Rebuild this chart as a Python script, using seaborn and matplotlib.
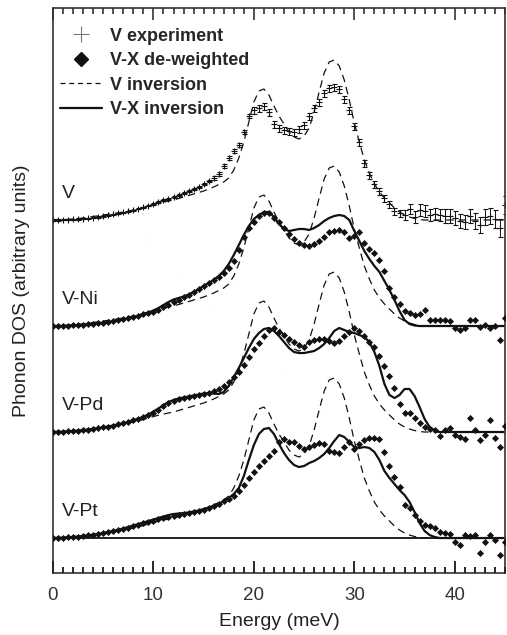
import numpy as np
import pandas as pd
import matplotlib
matplotlib.use("Agg")
import matplotlib.pyplot as plt
from matplotlib.lines import Line2D
from matplotlib.ticker import MultipleLocator
import seaborn as sns

# energy grid of the measurement (meV)
energy = np.arange(0, 45.5, 0.5)

# V inversion (same curve drawn in every panel), arbitrary units
v_inversion = [
    0, 0.1, 0.3, 0.6, 1.0, 1.4, 2.0, 2.6, 3.5, 4.2,
    5.0, 5.7, 6.5, 7.2, 8.0, 9.0, 10.0, 11.2, 12.5, 14.0,
    15.5, 16.8, 18.0, 19.0, 20.0, 21.5, 23.0, 24.5, 26.0, 27.5,
    29.0, 31.0, 33.0, 35.5, 38.0, 42.0, 50.0, 62.0, 78.0, 98.0,
    118, 129, 131, 125, 114, 104, 96, 88, 83, 81,
    84, 92, 108, 128, 147, 158, 160, 154, 140, 120,
    97, 78, 60, 47, 36, 28, 22, 17, 12, 8,
    5, 3, 1.5, 0.5, 0, 0, 0, 0, 0, 0,
    0, 0, 0, 0, 0, 0, 0, 0, 0, 0,
    0,
]

# V experiment
v_exp = [
    0, 0, 0.2, 0.4, 0.7, 1.0, 1.4, 1.9, 2.5, 3.1,
    4.0, 4.8, 5.7, 6.6, 7.6, 8.7, 9.9, 11.2, 12.6, 14.2,
    16.0, 17.8, 19.6, 21.4, 23.2, 25.0, 27.0, 29.0, 31.0, 33.5,
    36, 39, 42, 46, 54, 62, 69, 75, 88, 104,
    110, 112, 114, 108, 96, 92, 90, 89, 88, 91,
    95, 104, 112, 118, 127, 132, 133, 131, 121, 110,
    94, 78, 57, 45, 36, 29, 22, 16, 9, 7,
    5, 11, 3, 10, 9, 5, 6, 5, 4, 4,
    2, -1, -2, 4, -1, -5, 3, 4, 1, -8,
    15,
]
v_exp_err = (
    [0.6] * 20 + [1.0] * 12 + [2.0] * 8 + [3.5] * 30
    + [5, 5, 6, 6, 6, 6, 6, 6, 7, 7, 7, 7, 7, 7, 8, 8, 8, 8, 9, 9, 9]
)

# V-Ni
ni_points = [
    0, 0, 0.2, 0.4, 0.7, 1.0, 1.4, 1.8, 2.3, 2.8,
    3.4, 4.0, 4.8, 5.6, 6.6, 7.8, 9.0, 10.3, 11.6, 13.0,
    14.5, 16.5, 19.0, 21.5, 24.0, 26.5, 29.0, 31.5, 34.0, 37.0,
    40, 43, 46, 49, 53, 58, 65, 76, 89, 98,
    104, 110, 113, 113, 108, 104, 98, 92, 87, 83,
    81, 80, 82, 85, 89, 94, 95, 96, 94, 88,
    90, 94, 83, 77, 73, 66, 55, 38, 29, 22,
    15, 13, 11, 12, 16, 6, 6, 6, 6, 5,
    -2, -4, -2, 6, 6, -1, 1, -2, 0, -14,
    8,
]
ni_inversion = [
    0, 0, 0.2, 0.4, 0.7, 1.0, 1.4, 1.8, 2.3, 2.8,
    3.4, 4.0, 4.8, 5.6, 6.6, 7.8, 9.0, 10.3, 11.8, 13.5,
    15.5, 18.0, 21.0, 24.0, 26.5, 28.0, 29.5, 31.5, 34.0, 37.0,
    40, 43, 46, 50, 55, 62, 71, 81, 91, 100,
    107, 111, 114, 114, 109, 102, 97, 95, 96, 97,
    97, 96, 98, 101, 105, 108, 110, 111, 110, 106,
    95, 85, 75, 67, 60, 54, 45, 36, 26, 15,
    6, 2, 0.5, 0, 0, 0, 0, 0, 0, 0,
    0, 0, 0, 0, 0, 0, 0, 0, 0, 0,
    0,
]

# V-Pd
pd_points = [
    0, 0.2, 0.4, 0.7, 1.0, 1.4, 1.9, 2.5, 3.1, 3.8,
    4.6, 5.5, 6.5, 7.6, 8.8, 10.2, 11.7, 13.3, 15.0, 17.0,
    19.5, 22.5, 26.0, 29.0, 31.5, 33.0, 34.0, 35.0, 36.0, 37.0,
    38, 39.5, 41, 43, 46, 50, 55, 60, 67, 75,
    83, 89, 96, 102, 104, 100, 97, 93, 90, 87,
    85, 90, 92, 93, 93, 91, 89, 91, 96, 100,
    104, 101, 96, 90, 85, 76, 66, 56, 44, 28,
    19, 19, 14, 9, 5, 3, 2, -4, 2, 4,
    -3, -5, -7, 14, 2, -8, -3, 12, -6, -15,
    6,
]
pd_inversion = [
    0, 0.2, 0.4, 0.7, 1.0, 1.4, 1.9, 2.5, 3.1, 3.8,
    4.6, 5.5, 6.5, 7.6, 8.8, 10.2, 11.7, 13.3, 15.2, 17.5,
    20.5, 23.5, 27.0, 30.0, 32.0, 33.5, 34.5, 35.5, 36.5, 37.5,
    38.5, 39, 38.5, 38, 40, 46, 55, 64, 74, 84,
    93, 99, 103, 104, 101, 96, 90, 84, 80, 79,
    79, 80, 81, 84, 88, 94, 101, 104, 102, 100,
    99, 97, 95, 90, 80, 66, 48, 37, 34, 37,
    43, 43, 36, 25, 13, 5, 1.5, 0, 0, 0,
    0, 0, 0, 0, 0, 0, 0, 0, 0, 0,
    0,
]

# V-Pt
pt_points = [
    0, 0.2, 0.4, 0.7, 1.0, 1.5, 2.0, 2.6, 3.3, 4.1,
    5.0, 6.0, 7.0, 8.0, 9.0, 10.3, 11.7, 13.2, 14.7, 16.2,
    17.5, 18.8, 20.0, 21.0, 22.0, 23.0, 24.0, 25.0, 26.0, 27.0,
    28.5, 30, 32, 34.5, 37, 39, 42, 47, 53, 60,
    66, 72, 77, 82, 87, 96, 99, 96, 96, 92,
    89, 91, 93, 95, 94, 87, 86, 85, 91, 96,
    89, 94, 98, 100, 100, 99, 86, 72, 61, 51,
    33, 30, 23, 17, 13, 12, 10, 6, 5, 4,
    -4, -7, 3, 2, 3, -15, -4, 3, -2, -17,
    -4,
]
pt_inversion = [
    0, 0.2, 0.4, 0.7, 1.0, 1.5, 2.0, 2.6, 3.3, 4.1,
    5.0, 6.0, 7.0, 8.2, 9.5, 11.0, 12.5, 14.0, 15.5, 17.0,
    18.5, 20.0, 21.5, 23.0, 24.0, 24.5, 25.0, 25.5, 26.5, 27.5,
    29, 30.5, 32, 34, 37, 40, 44, 50, 62, 78,
    93, 104, 109, 110, 104, 94, 85, 78, 73, 71,
    72, 75, 77, 80, 84, 90, 97, 103, 101, 96,
    91, 90, 91, 90, 86, 78, 67, 60, 54, 48,
    43, 36, 26, 15, 7, 3, 1, 0, 0, 0,
    0, 0, 0, 0, 0, 0, 0, 0, 0, 0,
    0,
]

samples = ["V-Ni", "V-Pd", "V-Pt"]
points = [ni_points, pd_points, pt_points]
inversions = [ni_inversion, pd_inversion, pt_inversion]

sns.set_theme(style="ticks")
plt.rcParams["font.family"] = ["Liberation Sans", "DejaVu Sans"]

fig = plt.figure(figsize=(5.07, 6.35), dpi=100)
rect = [0.1045, 0.0976, 0.8915, 0.8898]
ax = fig.add_axes(rect)

step = 106
ink = "#111111"
dash = (0, (6, 4))

# top panel: V
top = 3 * step
df_v = pd.DataFrame({"energy": energy, "dos": np.array(v_inversion) + top})
sns.lineplot(data=df_v, x="energy", y="dos", ax=ax, color=ink, lw=0.9,
             linestyle=dash)
ax.errorbar(energy, np.array(v_exp) + top, yerr=v_exp_err, fmt="+", ms=5,
            mew=0.8, color=ink, elinewidth=0.7, capsize=1.8, capthick=0.7)
ax.text(0.9, top + 27, "V", fontsize=14, va="center", color="#222222")

for i, name in enumerate(samples):
    off = (2 - i) * step
    df = pd.DataFrame({
        "energy": energy,
        "dashed": np.array(v_inversion) + off,
        "solid": np.array(inversions[i]) + off,
        "points": np.array(points[i]) + off,
    })
    sns.lineplot(data=df, x="energy", y="dashed", ax=ax, color=ink, lw=0.9,
                 linestyle=dash)
    sns.lineplot(data=df, x="energy", y="solid", ax=ax, color=ink, lw=1.6)
    sns.scatterplot(data=df, x="energy", y="points", ax=ax, marker="D", s=13,
                    color=ink, edgecolor=ink, linewidth=0, zorder=3)
    ax.text(0.9, off + 27, name, fontsize=14, va="center", color="#222222")

ax.axhline(0, color=ink, lw=1.3, zorder=1)

ax.set_xlim(0, 45)
ax.set_ylim(-35, 530)
ax.set_yticks([])
ax.xaxis.set_major_locator(MultipleLocator(10))
ax.xaxis.set_minor_locator(MultipleLocator(1))
ax.tick_params(axis="x", which="both", direction="in", top=True, bottom=True,
               color="#222222", labelcolor="#333333", labelsize=13.5,
               width=1.1)
ax.tick_params(axis="x", which="major", length=8.5, pad=10)
ax.tick_params(axis="x", which="minor", length=4.5)
for sp in ax.spines.values():
    sp.set_linewidth(1.2)
    sp.set_color("#333333")

ax.set_xlabel("Energy (meV)", fontsize=14, color="#222222")
ax.set_ylabel("Phonon DOS (arbitrary units)", fontsize=14, color="#222222")
ax.yaxis.set_label_coords(-0.05, 0.5)
ax.xaxis.set_label_coords(0.5, -0.07)

handles = [
    Line2D([], [], marker="+", ls="none", color="#777777", ms=11, mew=0.8),
    Line2D([], [], marker="D", ls="none", color=ink, ms=7),
    Line2D([], [], color=ink, lw=0.9, linestyle=(0, (4, 3))),
    Line2D([], [], color=ink, lw=1.6),
]
labels = ["V experiment", "V-X de-weighted", "V inversion", "V-X inversion"]
ax.legend(handles, labels, loc="upper left", bbox_to_anchor=(-0.02, 0.994),
          frameon=False, prop={"weight": "bold", "size": 13},
          handlelength=2.3, handletextpad=0.45, labelspacing=0.42)

# transparent overlay on top of everything that carries the bottom ticks
over = fig.add_axes(rect, zorder=10)
over.patch.set_alpha(0)
over.set_xlim(0, 45)
over.set_yticks([])
over.xaxis.set_major_locator(MultipleLocator(10))
over.xaxis.set_minor_locator(MultipleLocator(1))
over.tick_params(axis="x", which="both", direction="in", bottom=True,
                 top=False, labelbottom=False, color="#222222", width=1.1)
over.tick_params(axis="x", which="major", length=8.5)
over.tick_params(axis="x", which="minor", length=4.5)
for sp in over.spines.values():
    sp.set_visible(False)

fig.savefig("out.png", dpi=100)
